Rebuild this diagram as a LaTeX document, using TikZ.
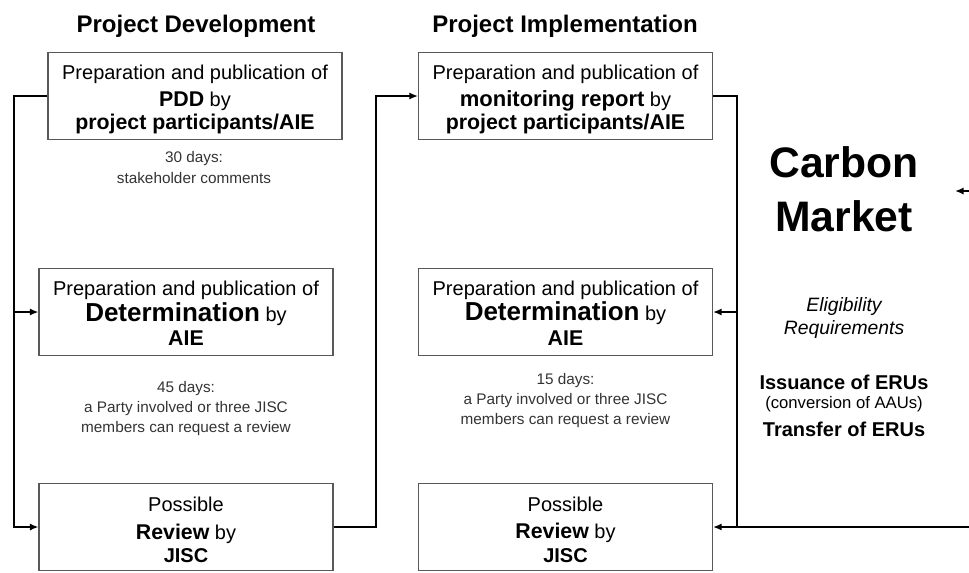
\documentclass[tikz,border=0pt]{standalone}
\usepackage{fontspec}
\setmainfont{Liberation Sans}
\usetikzlibrary{arrows.meta}
\newcommand{\fsz}[1]{\fontsize{#1}{#1}\selectfont}
\begin{document}
\begin{tikzpicture}[x=0.75pt,y=-0.75pt,
  box/.style={draw=black!65,line width=0.8pt,minimum width=220.5pt,minimum height=65.5pt,inner sep=0pt},
  txt/.style={anchor=base,inner sep=0pt},
  note/.style={txt,font=\fsz{11.5},text=black!80},
  conn/.style={line width=2.2pt},
  arr/.style={conn,-{Latex[length=6.5pt,width=5.5pt]}}]
\useasboundingbox (0,0) rectangle (969,572);

% headings
\node[txt,font=\bfseries\fsz{18}] (h1) at (196,32) {Project Development};
\node[txt,font=\bfseries\fsz{18}] (h2) at (565,32) {Project Implementation};

% boxes
\node[box] (B1) at (195,96) {};
\node[box] (B2) at (186,312) {};
\node[box] (B3) at (186,527) {};
\node[box] (B4) at (565.5,96) {};
\node[box] (B5) at (565.5,312) {};
\node[box] (B6) at (565.5,527) {};

% box texts
\node[txt,font=\fsz{15}] (b1a) at (195,79) {Preparation and publication of};
\node[txt,font=\fsz{15}] (b1b) at (195,106) {{\bfseries\fsz{16}PDD} by};
\node[txt,font=\bfseries\fsz{16}] (b1c) at (195,129) {project participants/AIE};

\node[txt,font=\fsz{15}] (b2a) at (186,295) {Preparation and publication of};
\node[txt,font=\fsz{15}] (b2b) at (186,321) {{\bfseries\fsz{19.5}Determination} by};
\node[txt,font=\bfseries\fsz{16}] (b2c) at (186,345) {AIE};

\node[txt,font=\fsz{15}] (b3a) at (186,511) {Possible};
\node[txt,font=\fsz{15}] (b3b) at (186,539) {{\bfseries\fsz{16}Review} by};
\node[txt,font=\bfseries\fsz{15}] (b3c) at (186,562) {JISC};

\node[txt,font=\fsz{15}] (b4a) at (565.5,79) {Preparation and publication of};
\node[txt,font=\fsz{15}] (b4b) at (565.5,106) {{\bfseries\fsz{16.5}monitoring report} by};
\node[txt,font=\bfseries\fsz{16}] (b4c) at (565.5,129) {project participants/AIE};

\node[txt,font=\fsz{15}] (b5a) at (565.5,295) {Preparation and publication of};
\node[txt,font=\fsz{15}] (b5b) at (565.5,320) {{\bfseries\fsz{19.5}Determination} by};
\node[txt,font=\bfseries\fsz{16}] (b5c) at (565.5,345) {AIE};

\node[txt,font=\fsz{15}] (b6a) at (565.5,511) {Possible};
\node[txt,font=\fsz{15}] (b6b) at (565.5,538) {{\bfseries\fsz{16}Review} by};
\node[txt,font=\bfseries\fsz{15}] (b6c) at (565.5,562) {JISC};

% notes
\node[note] (c1a) at (194,162) {30 days:};
\node[note] (c1b) at (194,183) {stakeholder comments};
\node[note] (c2a) at (186,392) {45 days:};
\node[note] (c2b) at (186,412) {a Party involved or three JISC};
\node[note] (c2c) at (186,432) {members can request a review};
\node[note] (c5a) at (565.5,384) {15 days:};
\node[note] (c5b) at (565.5,404) {a Party involved or three JISC};
\node[note] (c5c) at (565.5,424) {members can request a review};

% carbon market column
\node[txt,font=\bfseries\fsz{32}] (cm1) at (844,177) {Carbon};
\node[txt,font=\bfseries\fsz{32}] (cm2) at (844,231) {Market};
\node[txt,font=\itshape\fsz{14.5}] (el1) at (844,311) {Eligibility};
\node[txt,font=\itshape\fsz{14.5}] (el2) at (844,334) {Requirements};
\node[txt,font=\bfseries\fsz{15}] (is1) at (844,389) {Issuance of ERUs};
\node[txt,font=\fsz{12.5}] (is2) at (844,408) {(conversion of AAUs)};
\node[txt,font=\bfseries\fsz{15}] (tr1) at (844,436) {Transfer of ERUs};

% connector coordinates
\coordinate (lt) at (14,96);
\coordinate (lm) at (14,312);
\coordinate (lb) at (14,527);
\coordinate (mb) at (376,527);
\coordinate (mt) at (376,96);
\coordinate (rt) at (737,96);
\coordinate (rm) at (737,312);
\coordinate (rb) at (737,527);
\coordinate (edgeB) at (969,527);
\coordinate (edgeT) at (969,191);
\coordinate (stubT) at (955,191);

% connectors
\draw[arr] (B1.west) -- (lt) -- (lb) -- (B3.west);
\draw[arr] (lm) -- (B2.west);
\draw[arr] (B3.east) -- (mb) -- (mt) -- (B4.west);
\draw[conn] (B4.east) -- (rt) -- (rb);
\draw[arr] (rm) -- (B5.east);
\draw[arr] (edgeB) -- (B6.east);
\draw[arr] (edgeT) -- (stubT);
\end{tikzpicture}
\end{document}
